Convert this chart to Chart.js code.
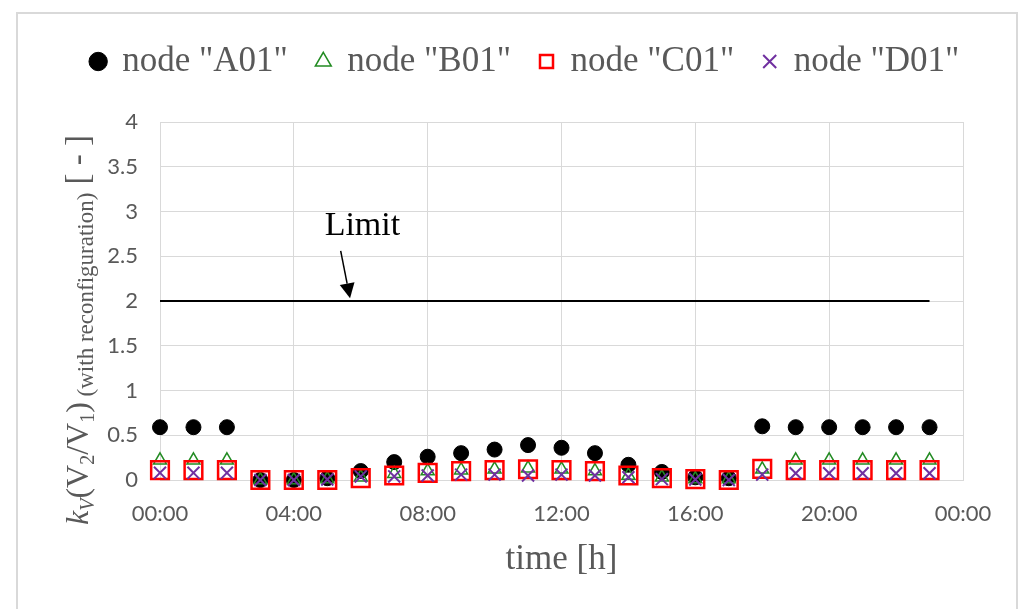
<!DOCTYPE html>
<html>
<head>
<meta charset="utf-8">
<script src="https://cdn.jsdelivr.net/npm/chart.js@4.4.1/dist/chart.umd.min.js"></script>
<style>
  body { margin: 0; background: #fff; }
  #wrap { width: 1021px; height: 609px; position: relative; }
</style>
</head>
<body>
<div id="wrap"><canvas id="kvChart"></canvas></div>
<script>
// hour of day
const hours = [0, 1, 2, 3, 4, 5, 6, 7, 8, 9, 10, 11, 12, 13, 14, 15, 16, 17, 18, 19, 20, 21, 22, 23];

// kV values
const nodeA01 = [0.59, 0.59, 0.59, 0, 0, 0.02, 0.1, 0.2, 0.26, 0.3, 0.34, 0.39, 0.36, 0.3, 0.17, 0.09, 0.03, 0.02, 0.6, 0.59, 0.59, 0.59, 0.59, 0.59];
const nodeB01 = [0.22, 0.22, 0.22, 0, 0, 0.01, 0.03, 0.07, 0.1, 0.11, 0.12, 0.13, 0.12, 0.1, 0.05, 0.03, 0.01, 0.01, 0.12, 0.22, 0.22, 0.22, 0.22, 0.22];
const nodeC01 = [0.11, 0.11, 0.11, 0, 0, 0, 0.02, 0.05, 0.08, 0.1, 0.11, 0.12, 0.11, 0.1, 0.05, 0.02, 0.01, 0, 0.125, 0.11, 0.11, 0.11, 0.11, 0.11];
const nodeD01 = [0.08, 0.08, 0.08, 0, 0, 0.005, 0.04, 0.04, 0.05, 0.06, 0.06, 0.05, 0.06, 0.05, 0.03, 0.01, 0.005, 0, 0.06, 0.075, 0.075, 0.075, 0.075, 0.075];

// limit line
const limitValue = 2;
const limitHours = [0, 23];

// tick labels
const xTickLabels = ['00:00', '04:00', '08:00', '12:00', '16:00', '20:00', '00:00'];
const yTickLabels = ['0', '0.5', '1', '1.5', '2', '2.5', '3', '3.5', '4'];

// "Limit" note and arrow, in data units
const limitNote = { text: 'Limit', x: 6.05, y: 2.74 };
const limitArrow = { fromX: 5.4, fromY: 2.56, toX: 5.68, toY: 2.03 };

const serif = '"Liberation Serif", "Times New Roman", serif';
const sans = 'Lato, "Open Sans", sans-serif';
const gray = '#595959';

function toPoints(values) {
    return hours.map((h, i) => ({ x: h, y: values[i] }));
}

// extra empty layout boxes (space under legend, space right of plot)
const spacerPlugin = {
    id: 'spacer',
    beforeInit(chart) {
        const make = (position, size) => ({
            position: position,
            weight: 500,
            fullSize: false,
            options: {},
            isHorizontal() { return position === 'top' || position === 'bottom'; },
            update(maxW, maxH) {
                if (this.isHorizontal()) { this.width = maxW; this.height = size; }
                else { this.width = size; this.height = maxH; }
            },
            draw() {}
        });
        Chart.layouts.addBox(chart, make('top', 33));
        Chart.layouts.addBox(chart, make('right', 58));
    }
};

// outer frame, y title with subscripts, Limit note
const decoPlugin = {
    id: 'deco',
    beforeDraw(chart) {
        const ctx = chart.ctx;
        ctx.save();
        ctx.strokeStyle = '#d9d9d9';
        ctx.lineWidth = 2;
        ctx.strokeRect(17, 13, 1000, 700);
        ctx.restore();
    },
    afterDatasetsDraw(chart) {
        const ctx = chart.ctx;
        const xs = chart.scales.x, ys = chart.scales.y;
        ctx.save();
        ctx.fillStyle = '#000';
        ctx.font = '34px ' + serif;
        ctx.textAlign = 'center';
        ctx.textBaseline = 'alphabetic';
        ctx.fillText(limitNote.text, xs.getPixelForValue(limitNote.x), ys.getPixelForValue(limitNote.y));

        const x1 = xs.getPixelForValue(limitArrow.fromX), y1 = ys.getPixelForValue(limitArrow.fromY);
        const x2 = xs.getPixelForValue(limitArrow.toX), y2 = ys.getPixelForValue(limitArrow.toY);
        const ang = Math.atan2(y2 - y1, x2 - x1);
        const headLen = 15, headHalf = 7.5;
        const bx = x2 - Math.cos(ang) * headLen, by = y2 - Math.sin(ang) * headLen;
        ctx.strokeStyle = '#000';
        ctx.lineWidth = 1.5;
        ctx.beginPath();
        ctx.moveTo(x1, y1);
        ctx.lineTo(bx, by);
        ctx.stroke();
        ctx.beginPath();
        ctx.moveTo(x2, y2);
        ctx.lineTo(bx - Math.sin(ang) * headHalf, by + Math.cos(ang) * headHalf);
        ctx.lineTo(bx + Math.sin(ang) * headHalf, by - Math.cos(ang) * headHalf);
        ctx.closePath();
        ctx.fill();
        ctx.restore();
    },
    afterDraw(chart) {
        const ctx = chart.ctx;
        const parts = [
            { text: 'k', style: 'italic', size: 32, shift: 0 },
            { text: 'V', style: 'italic', size: 20, shift: 6 },
            { text: '(V', style: 'normal', size: 32, shift: 0 },
            { text: '2', style: 'normal', size: 20, shift: 6 },
            { text: '/V', style: 'normal', size: 32, shift: 0 },
            { text: '1', style: 'normal', size: 20, shift: 6 },
            { text: ')', style: 'normal', size: 32, shift: 0 },
            { text: ' (with reconfiguration)', style: 'normal', size: 23, shift: 5 },
            { text: ' [ - ]', style: 'normal', size: 33, shift: 0 }
        ];
        ctx.save();
        ctx.translate(88, 525);
        ctx.rotate(-Math.PI / 2);
        ctx.fillStyle = gray;
        ctx.textAlign = 'left';
        ctx.textBaseline = 'alphabetic';
        let u = 0;
        parts.forEach(p => {
            ctx.font = p.style + ' ' + p.size + 'px ' + serif;
            ctx.fillText(p.text, u, p.shift);
            u += ctx.measureText(p.text).width;
        });
        ctx.restore();
    }
};

const ctx = document.getElementById('kvChart').getContext('2d');
const kvChart = new Chart(ctx, {
    type: 'scatter',
    data: {
        datasets: [
            {
                label: 'node "A01"',
                data: toPoints(nodeA01),
                pointStyle: 'circle',
                pointRadius: 7.5,
                backgroundColor: '#000',
                borderColor: '#000',
                borderWidth: 1,
                order: 4,
                clip: false
            },
            {
                label: 'node "B01"',
                data: toPoints(nodeB01),
                pointStyle: 'triangle',
                pointRadius: 7.5,
                backgroundColor: 'rgba(0,0,0,0)',
                borderColor: '#228b22',
                borderWidth: 1.5,
                order: 3,
                clip: false
            },
            {
                label: 'node "C01"',
                data: toPoints(nodeC01),
                pointStyle: 'rect',
                pointRadius: 12.5,
                backgroundColor: 'rgba(0,0,0,0)',
                borderColor: '#ff0000',
                borderWidth: 2.5,
                order: 2,
                clip: false
            },
            {
                label: 'node "D01"',
                data: toPoints(nodeD01),
                pointStyle: 'crossRot',
                pointRadius: 8.5,
                backgroundColor: 'rgba(0,0,0,0)',
                borderColor: '#7030a0',
                borderWidth: 2,
                order: 1,
                clip: false
            },
            {
                label: 'Limit',
                data: limitHours.map(h => ({ x: h, y: limitValue })),
                showLine: true,
                pointRadius: 0,
                borderColor: '#000',
                borderWidth: 2,
                order: 5
            }
        ]
    },
    options: {
        responsive: true,
        maintainAspectRatio: false,
        animation: false,
        events: [],
        layout: { padding: { top: 15, left: 30, right: 0, bottom: 0 } },
        plugins: {
            tooltip: { enabled: false },
            legend: {
                position: 'top',
                labels: {
                    usePointStyle: true,
                    boxWidth: 13,
                    boxHeight: 13,
                    padding: 29,
                    color: gray,
                    font: { family: serif, size: 35 },
                    filter: item => item.text !== 'Limit',
                    sort: (a, b) => a.datasetIndex - b.datasetIndex
                }
            }
        },
        scales: {
            x: {
                type: 'linear',
                min: 0,
                max: 24,
                afterFit: scale => { scale.height = 129; },
                ticks: {
                    stepSize: 4,
                    padding: 21,
                    color: gray,
                    font: { family: sans, size: 22 },
                    callback: v => xTickLabels[v / 4]
                },
                grid: { color: '#d9d9d9', drawTicks: false },
                border: { color: '#d9d9d9' },
                title: {
                    display: true,
                    text: 'time [h]',
                    color: gray,
                    font: { family: serif, size: 35 },
                    padding: { top: 0, bottom: 28 }
                }
            },
            y: {
                min: 0,
                max: 4,
                afterFit: scale => { scale.width = 130; },
                ticks: {
                    stepSize: 0.5,
                    padding: 22,
                    color: gray,
                    font: { family: sans, size: 22 },
                    callback: v => yTickLabels[Math.round(v * 2)]
                },
                grid: { color: '#d9d9d9', drawTicks: false },
                border: { color: '#d9d9d9' }
            }
        }
    },
    plugins: [spacerPlugin, decoPlugin]
});
</script>
</body>
</html>
